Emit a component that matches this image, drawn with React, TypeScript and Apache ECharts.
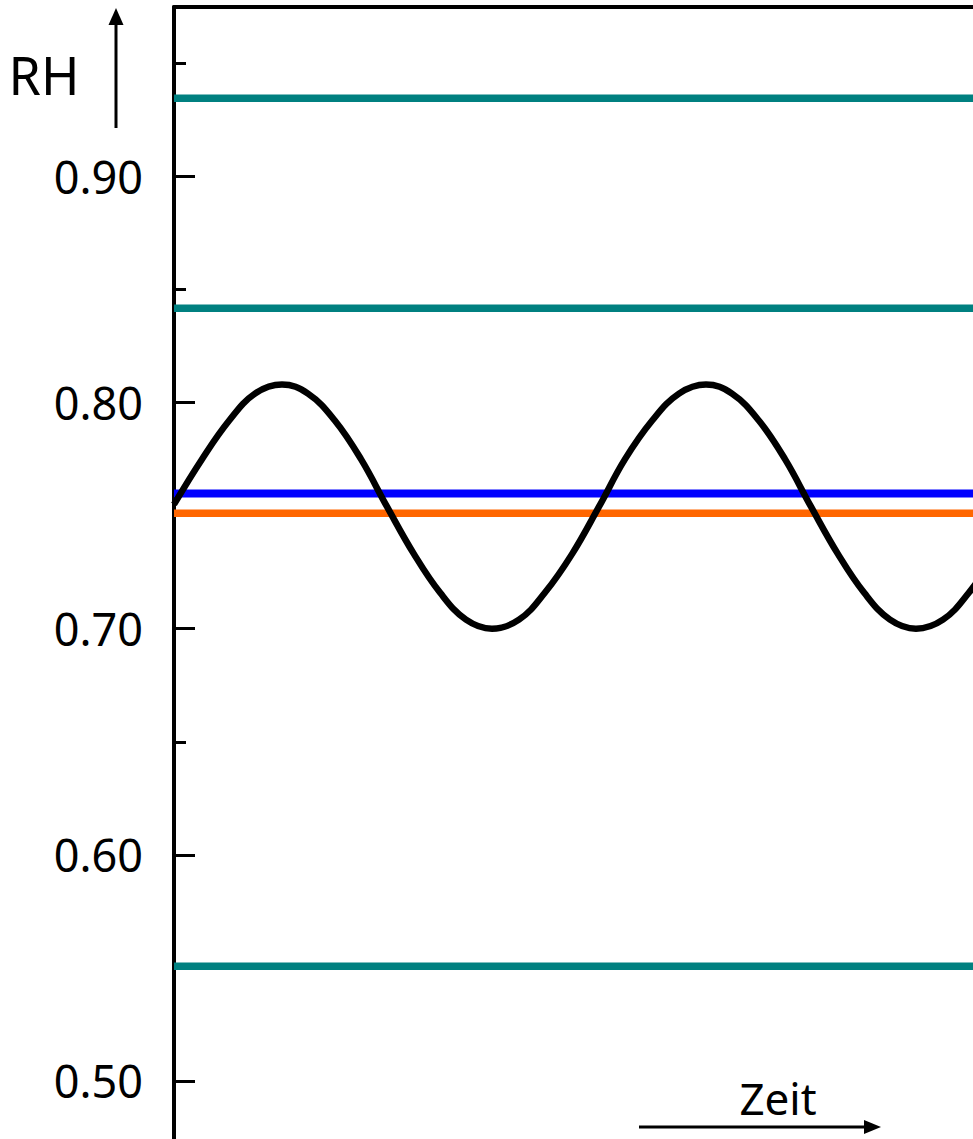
import React, { useEffect, useRef } from "react";
import * as echarts from "echarts";

// Relative humidity (RH) over time
const TIME = [
  0, 28, 55, 81, 108, 134, 161, 187, 213, 240, 266, 292, 318, 345, 371, 398,
  425, 451, 478, 505, 532, 558, 585, 611, 637, 664, 690, 716, 742, 769, 795, 822,
];
const RH_CURVE = [
  0.755, 0.775, 0.792, 0.804, 0.808, 0.804, 0.792, 0.775, 0.754, 0.733, 0.716, 0.704, 0.7, 0.704, 0.716, 0.733,
  0.754, 0.775, 0.792, 0.804, 0.808, 0.804, 0.792, 0.775, 0.754, 0.733, 0.716, 0.704, 0.7, 0.704, 0.716, 0.733,
];

const TEAL_LEVELS = [0.9346, 0.8418, 0.5507];
const BLUE_LEVEL = 0.7598;
const ORANGE_LEVEL = 0.7511;

const MAJOR_TICKS = [0.5, 0.6, 0.7, 0.8, 0.9];
const MINOR_TICKS = [0.55, 0.65, 0.75, 0.85, 0.95];

const Y_MIN = 0.4743;
const Y_MAX = 0.975;
const X_MIN = 0;
const X_MAX = 799;

const FONT = '"Noto Sans", "Open Sans", sans-serif';

export default function App() {
  const ref = useRef<HTMLDivElement>(null);
  useEffect(() => {
    if (!ref.current) return;
    const chart = echarts.init(ref.current, null, { renderer: "svg" });
    const flat = (v: number) => [
      [X_MIN, v],
      [X_MAX, v],
    ];
    const levelSeries = (v: number, color: string, width: number) => ({
      type: "line",
      data: flat(v),
      symbol: "none",
      silent: true,
      lineStyle: { color, width },
      z: 2,
    });
    chart.setOption({
      animation: false,
      backgroundColor: "#fff",
      grid: { left: 174, top: 7, right: 0, bottom: 0 },
      xAxis: {
        type: "value",
        position: "top",
        min: X_MIN,
        max: X_MAX,
        axisLine: { show: true, lineStyle: { color: "#000", width: 4 } },
        axisTick: { show: false },
        axisLabel: { show: false },
        splitLine: { show: false },
      },
      yAxis: [
        {
          type: "value",
          position: "left",
          min: Y_MIN,
          max: Y_MAX,
          axisLine: { show: true, lineStyle: { color: "#000", width: 4 } },
          axisTick: {
            show: true,
            inside: true,
            length: 21,
            customValues: MAJOR_TICKS,
            lineStyle: { color: "#000", width: 3 },
          },
          axisLabel: {
            show: true,
            customValues: MAJOR_TICKS,
            formatter: (v: number) => v.toFixed(2),
            fontSize: 45,
            fontFamily: FONT,
            color: "#000",
            margin: 31,
          },
          splitLine: { show: false },
        },
        {
          type: "value",
          position: "left",
          min: Y_MIN,
          max: Y_MAX,
          axisLine: { show: false },
          axisTick: {
            show: true,
            inside: true,
            length: 12,
            customValues: MINOR_TICKS,
            lineStyle: { color: "#000", width: 3 },
          },
          axisLabel: { show: false },
          splitLine: { show: false },
        },
      ],
      series: [
        ...TEAL_LEVELS.map((v) => levelSeries(v, "#008080", 7.5)),
        levelSeries(BLUE_LEVEL, "#0000ff", 8),
        levelSeries(ORANGE_LEVEL, "#ff6600", 7.5),
        {
          type: "line",
          data: TIME.map((t, i) => [t, RH_CURVE[i]]),
          smooth: 0.4,
          symbol: "none",
          silent: true,
          lineStyle: { color: "#000", width: 6.5 },
          z: 3,
        },
      ],
      graphic: [
        {
          type: "text",
          style: {
            text: "RH",
            x: 44,
            y: 74,
            textAlign: "center",
            textVerticalAlign: "middle",
            font: `52px ${FONT}`,
            fill: "#000",
          },
        },
        {
          type: "line",
          shape: { x1: 116, y1: 128, x2: 116, y2: 20 },
          style: { stroke: "#000", lineWidth: 3 },
        },
        {
          type: "polygon",
          shape: { points: [[116, 8], [108.5, 25], [123.5, 25]] },
          style: { fill: "#000" },
        },
        {
          type: "text",
          style: {
            text: "Zeit",
            x: 778,
            y: 1098,
            textAlign: "center",
            textVerticalAlign: "middle",
            font: `44px ${FONT}`,
            fill: "#000",
          },
        },
        {
          type: "line",
          shape: { x1: 639, y1: 1127, x2: 868, y2: 1127 },
          style: { stroke: "#000", lineWidth: 3 },
        },
        {
          type: "polygon",
          shape: { points: [[881, 1127], [864, 1120], [864, 1134]] },
          style: { fill: "#000" },
        },
      ],
    });
    return () => chart.dispose();
  }, []);
  return (
    <div
      ref={ref}
      style={{ position: "absolute", left: 0, top: 0, width: 973, height: 1139 }}
    />
  );
}
